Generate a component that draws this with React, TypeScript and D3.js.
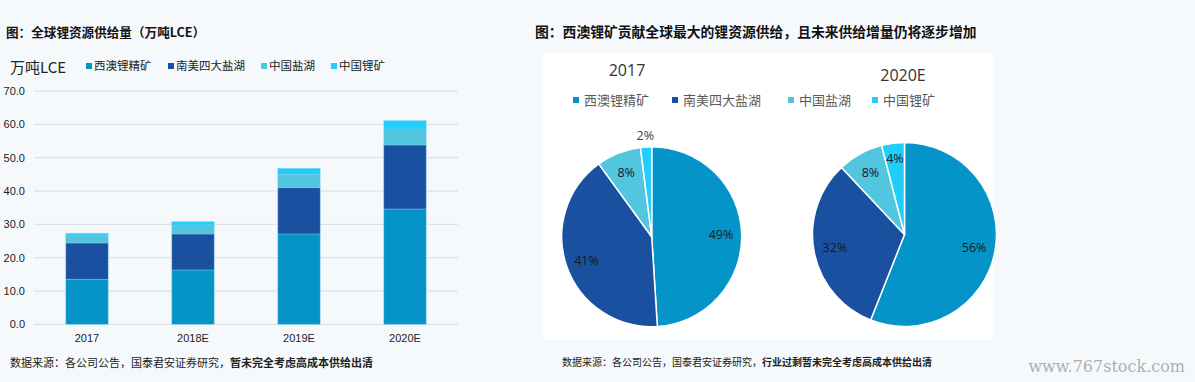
import React from "react";
import * as d3 from "d3";

const categories = ["2017", "2018E", "2019E", "2020E"];
const seriesNames = ["西澳锂精矿", "南美四大盐湖", "中国盐湖", "中国锂矿"];
const westAus = [13.5, 16.3, 27.1, 34.6];
const southAm = [10.9, 10.8, 13.9, 19.2];
const chinaBrine = [2.4, 2.7, 4.0, 4.8];
const chinaMine = [0.5, 1.0, 1.8, 2.5];
const yTicks = [0, 10, 20, 30, 40, 50, 60, 70];
const pie2017 = [49, 41, 8, 2];
const pie2020 = [56, 32, 8, 4];
const colors = ["#0494c8", "#1a50a0", "#52c6de", "#22cdfc"];

const FONT = "'Microsoft YaHei','Noto Sans CJK SC','Noto Sans',sans-serif";

function BarChart() {
  const x = d3.scaleBand<string>().domain(categories).range([34, 458]).paddingInner(0.6).paddingOuter(0.3);
  const y = d3.scaleLinear().domain([0, 70]).range([324.3, 91]);
  const rows = categories.map((c, i) => ({
    cat: c,
    s0: westAus[i],
    s1: southAm[i],
    s2: chinaBrine[i],
    s3: chinaMine[i],
  }));
  const stacked = d3.stack<any>().keys(["s0", "s1", "s2", "s3"])(rows);
  const legendX = [86, 168, 261, 331];
  return (
    <g>
      <text x={6} y={37} fontSize={12.6} fontWeight="bold" fill="#111" fontFamily={FONT}>
        图：全球锂资源供给量（万吨LCE）
      </text>
      <text x={10} y={73} fontSize={15} fill="#222" fontFamily={FONT}>万吨LCE</text>
      {seriesNames.map((n, i) => (
        <g key={n}>
          <rect x={legendX[i]} y={63} width={6} height={6} fill={colors[i]} />
          <text x={legendX[i] + 8} y={70} fontSize={11.5} fill="#222" fontFamily={FONT}>{n}</text>
        </g>
      ))}
      {yTicks.map((t) => (
        <g key={t}>
          <line x1={34} x2={458} y1={y(t)} y2={y(t)} stroke="#d9dce0" strokeWidth={1} />
          <text x={25} y={y(t) + 4} fontSize={11} textAnchor="end" fill="#222" fontFamily="Arial, 'Liberation Sans', sans-serif">
            {t.toFixed(1)}
          </text>
        </g>
      ))}
      {stacked.map((layer, li) =>
        layer.map((d, di) => (
          <rect
            key={li + "-" + di}
            x={x(categories[di])!}
            width={x.bandwidth()}
            y={y(d[1])}
            height={y(d[0]) - y(d[1])}
            fill={colors[li]}
            stroke="#7fd0ef"
            strokeOpacity={0.5}
            strokeWidth={0.8}
          />
        ))
      )}
      {categories.map((c) => (
        <text key={c} x={x(c)! + x.bandwidth() / 2} y={342} fontSize={11} textAnchor="middle" fill="#222" fontFamily="Arial, 'Liberation Sans', sans-serif">
          {c}
        </text>
      ))}
      <text x={10} y={367} fontSize={11} fill="#222" fontFamily={FONT}>
        数据来源：各公司公告，国泰君安证券研究，<tspan fontWeight="bold">暂未完全考虑高成本供给出清</tspan>
      </text>
    </g>
  );
}

function Pie({ cx, cy, r, data, outsideIdx }: { cx: number; cy: number; r: number; data: number[]; outsideIdx: number[] }) {
  const arcs = d3.pie<number>().sort(null).value((d) => d)(data);
  const arc = d3.arc<d3.PieArcDatum<number>>().innerRadius(0).outerRadius(r);
  return (
    <g transform={`translate(${cx},${cy})`}>
      {arcs.map((a, i) => (
        <path key={i} d={arc(a)!} fill={colors[i]} stroke="#fff" strokeWidth={1.5} />
      ))}
      {arcs.map((a, i) => {
        const mid = (a.startAngle + a.endAngle) / 2;
        const k = outsideIdx.includes(i) ? 1.13 : i === 3 ? 0.83 : 0.77;
        const lx = Math.sin(mid) * r * k;
        const ly = -Math.cos(mid) * r * k;
        return (
          <text key={"t" + i} x={lx} y={ly + 4.5} fontSize={12.5} textAnchor="middle" fill={outsideIdx.includes(i) ? "#404040" : "#1a1a1a"} fontFamily="'Open Sans','Noto Sans',sans-serif">
            {data[i]}%
          </text>
        );
      })}
    </g>
  );
}

function PieCharts() {
  const legendX = [573, 672, 788, 872];
  return (
    <g>
      <text x={535} y={37} fontSize={13.8} fontWeight="bold" fill="#111" fontFamily={FONT}>
        图：西澳锂矿贡献全球最大的锂资源供给，且未来供给增量仍将逐步增加
      </text>
      <rect x={543} y={53} width={450} height={287} fill="#fff" />
      <text x={627} y={76} fontSize={16} fill="#333" textAnchor="middle" fontFamily="'Open Sans','Noto Sans',sans-serif">2017</text>
      <text x={903} y={81} fontSize={16} fill="#333" textAnchor="middle" fontFamily="'Open Sans','Noto Sans',sans-serif">2020E</text>
      {seriesNames.map((n, i) => (
        <g key={n}>
          <rect x={legendX[i]} y={97} width={6} height={6} fill={colors[i]} />
          <text x={legendX[i] + 11} y={105} fontSize={13} fill="#595959" fontFamily={FONT}>{n}</text>
        </g>
      ))}
      <Pie cx={651.7} cy={236.7} r={90} data={pie2017} outsideIdx={[3]} />
      <Pie cx={904.5} cy={234.5} r={92} data={pie2020} outsideIdx={[]} />
      <text x={562} y={366} fontSize={10} fill="#222" fontFamily={FONT}>
        数据来源：各公司公告，国泰君安证券研究，<tspan fontWeight="bold">行业过剩暂未完全考虑高成本供给出清</tspan>
      </text>
      <text x={1185} y={372} fontSize={16} fill="#9a9a9a" fillOpacity={0.8} textAnchor="end" fontFamily="'DejaVu Serif',serif">www.767stock.com</text>
    </g>
  );
}

export default function App() {
  return (
    <svg width={1195} height={382} style={{ position: "absolute", left: 0, top: 0, display: "block" }}>
      <rect x={0} y={0} width={1195} height={382} fill="#f5f9fc" />
      <BarChart />
      <PieCharts />
    </svg>
  );
}
